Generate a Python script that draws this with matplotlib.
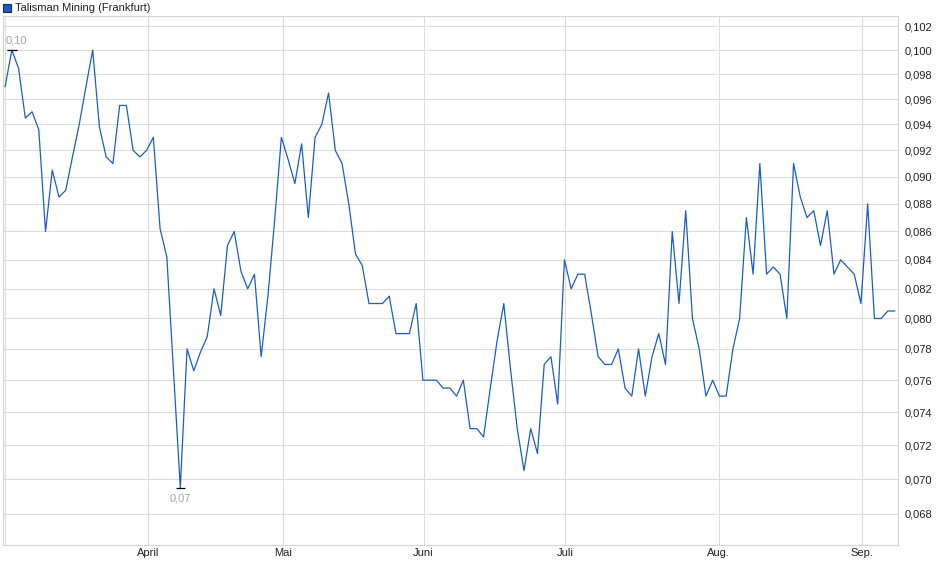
import matplotlib
matplotlib.use("Agg")
import matplotlib.pyplot as plt
from matplotlib.ticker import FixedLocator, FuncFormatter, NullLocator
from matplotlib.patches import Rectangle

plt.rcParams['font.family'] = ['Liberation Sans', 'DejaVu Sans']

# Kurs Talisman Mining (Frankfurt), ein Wert pro Handelstag
prices = [
    0.097, 0.100, 0.0985, 0.0945, 0.095, 0.0936, 0.086, 0.0905, 0.0885, 0.089,
    0.0915, 0.094, 0.097, 0.100, 0.0938, 0.0915, 0.091, 0.0955, 0.0955, 0.092,
    0.0915, 0.092, 0.093, 0.0862, 0.0842, 0.0765, 0.0695, 0.078, 0.0766, 0.0778,
    0.0788, 0.082, 0.0802, 0.085, 0.086, 0.0832, 0.082, 0.083, 0.0775, 0.0815,
    0.0868, 0.093, 0.0913, 0.0895, 0.0925, 0.087, 0.093, 0.094, 0.0965, 0.092,
    0.091, 0.088, 0.0844, 0.0836, 0.081, 0.081, 0.081, 0.0815, 0.079, 0.079,
    0.079, 0.081, 0.076, 0.076, 0.076, 0.0755, 0.0755, 0.075, 0.076, 0.073,
    0.073, 0.0725, 0.0755, 0.0785, 0.081, 0.0767, 0.073, 0.0705, 0.073, 0.0715,
    0.077, 0.0775, 0.0745, 0.084, 0.082, 0.083, 0.083, 0.0803, 0.0775, 0.077,
    0.077, 0.078, 0.0755, 0.075, 0.078, 0.075, 0.0775, 0.079, 0.077, 0.086,
    0.081, 0.0875, 0.080, 0.078, 0.075, 0.076, 0.075, 0.075, 0.078, 0.080,
    0.087, 0.083, 0.091, 0.083, 0.0835, 0.083, 0.080, 0.091, 0.0885, 0.087,
    0.0875, 0.085, 0.0875, 0.083, 0.084, 0.0835, 0.083, 0.081, 0.088, 0.080,
    0.080, 0.0805, 0.0805,
]
month_labels = ['April', 'Mai', 'Juni', 'Juli', 'Aug.', 'Sep.']
month_pos = [21.2, 41.2, 62.1, 83.1, 105.9, 127.1]
y_ticks = [0.068, 0.070, 0.072, 0.074, 0.076, 0.078, 0.080, 0.082, 0.084,
           0.086, 0.088, 0.090, 0.092, 0.094, 0.096, 0.098, 0.100, 0.102]

W, H = 940, 579
fig = plt.figure(figsize=(W / 100, H / 100), dpi=100)
ax = fig.add_axes([3 / W, 34 / H, 895 / W, 529 / H])

x = list(range(len(prices)))
ax.plot(x, prices, color='#1a5dc8', linewidth=0.9, zorder=3)

ax.set_yscale('log')
ax.set_ylim(0.06627, 0.10287)
ax.set_xlim(-0.31, len(prices) - 0.5)

ax.yaxis.set_major_locator(FixedLocator(y_ticks))
ax.yaxis.set_minor_locator(NullLocator())
ax.yaxis.set_major_formatter(FuncFormatter(lambda v, p: f"{v:.3f}".replace('.', ',')))
ax.yaxis.tick_right()
ax.set_xticks(month_pos)
ax.set_xticklabels(month_labels)
ax.tick_params(axis='both', length=0, labelsize=8, colors='#222222')
ax.tick_params(axis='y', pad=5)
ax.tick_params(axis='x', pad=2)

grid_c = '#dcdcdc'
ax.grid(True, color=grid_c, linewidth=0.8, zorder=0)
ax.axvline(0, color=grid_c, linewidth=0.8, zorder=0)
for s in ax.spines.values():
    s.set_color('#d4d4d4')
    s.set_linewidth(0.8)

# Hoch / Tief markieren
i_max = prices.index(max(prices))
i_min = prices.index(min(prices))
for i, dx, off, ha, va in [(i_max, -4.5, 3, 'left', 'bottom'),
                           (i_min, 0, -4, 'center', 'top')]:
    v = prices[i]
    ax.hlines(v, i - 0.7, i + 0.7, color='black', linewidth=0.9, zorder=4)
    ax.annotate(f"{v:.2f}".replace('.', ','), (i, v), xytext=(dx, off),
                textcoords='offset points', ha=ha, va=va,
                fontsize=8, color='#a8a29a')

# Legende oben links
fig.add_artist(Rectangle((3 / W, (H - 12) / H), 8 / W, 8 / H,
                         transform=fig.transFigure, facecolor='#1a5dc8',
                         edgecolor='#1a2a50', linewidth=0.8))
fig.text(15 / W, (H - 8) / H, 'Talisman Mining (Frankfurt)', fontsize=8,
         va='center', ha='left', color='#222222')

fig.savefig('out.png', dpi=100)
